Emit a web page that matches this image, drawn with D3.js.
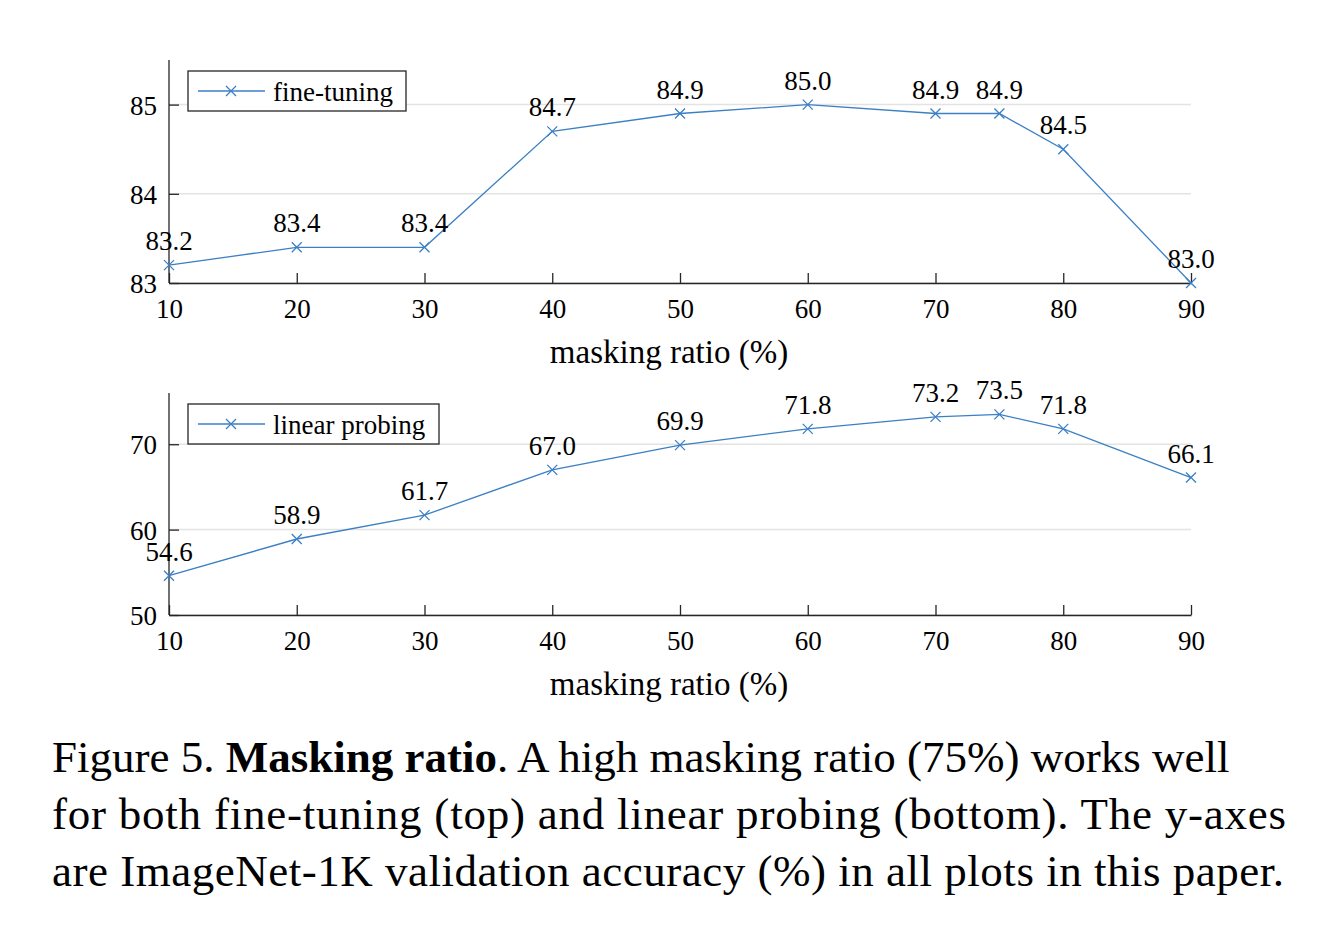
<!DOCTYPE html>
<html><head><meta charset="utf-8">
<script src="https://cdn.jsdelivr.net/npm/d3@7"></script>
<style>body{margin:0;background:#fff}text{font-family:"Liberation Serif","Times New Roman",serif;fill:#000}</style>
</head><body>
<svg id="c" width="1318" height="930"></svg>
<script>
// data
const ratios = [10, 20, 30, 40, 50, 60, 70, 75, 80, 90];
const xTicks = [10, 20, 30, 40, 50, 60, 70, 80, 90];
const fineTuning = [83.2, 83.4, 83.4, 84.7, 84.9, 85.0, 84.9, 84.9, 84.5, 83.0];
const linearProbing = [54.6, 58.9, 61.7, 67.0, 69.9, 71.8, 73.2, 73.5, 71.8, 66.1];
const ftTicks = [83, 84, 85];
const lpTicks = [50, 60, 70];

const svg = d3.select("#c");
const blue = "#3b7fc4";

function panel(top, bottom, yDomain, yTicks, values, label, legW) {
  const x = d3.scaleLinear().domain([10, 90]).range([169, 1191]);
  const y = d3.scaleLinear().domain(yDomain).range([bottom, top]);
  const g = svg.append("g");

  // grid
  g.selectAll(".grid").data(yTicks).enter().append("line")
    .attr("x1", 169).attr("x2", 1191)
    .attr("y1", d => y(d)).attr("y2", d => y(d))
    .attr("stroke", "#e3e3e3").attr("stroke-width", 1.5);

  // axes
  const ax = g.append("g").attr("transform", `translate(0,${bottom})`)
    .call(d3.axisBottom(x).tickValues(xTicks).tickFormat(d3.format("d")).tickSize(-10).tickPadding(16).tickSizeOuter(0));
  const ay = g.append("g").attr("transform", "translate(169,0)")
    .call(d3.axisLeft(y).tickValues(yTicks).tickFormat(d3.format("d")).tickSize(-10).tickPadding(12).tickSizeOuter(0));
  [ax, ay].forEach(a => {
    a.select(".domain").attr("stroke", "#262626").attr("stroke-width", 1.3);
    a.selectAll(".tick line").attr("stroke", "#262626").attr("stroke-width", 1.3);
    a.selectAll("text").style("font-size", "27px").attr("fill", "#1a1a1a")
      .style("font-family", '"Liberation Serif",serif');
  });
  ay.selectAll("text").attr("dy", "0.35em");
  ay.select(".domain").attr("d", `M0,${top}V${bottom}`);

  // x label
  g.append("text").attr("x", 669).attr("y", bottom + 80).attr("text-anchor", "middle")
    .style("font-size", "33px").text("masking ratio (%)");

  // line
  const pts = ratios.map((r, i) => [r, values[i]]);
  g.append("path").datum(pts).attr("fill", "none").attr("stroke", blue).attr("stroke-width", 1.3)
    .attr("d", d3.line().x(d => x(d[0])).y(d => y(d[1])));
  const s = 5;
  g.selectAll(".m").data(pts).enter().append("path")
    .attr("d", d => { const cx = x(d[0]), cy = y(d[1]);
      return `M${cx-s},${cy-s}L${cx+s},${cy+s}M${cx-s},${cy+s}L${cx+s},${cy-s}`; })
    .attr("stroke", blue).attr("stroke-width", 1.3);
  g.selectAll(".lab").data(pts).enter().append("text")
    .attr("x", d => x(d[0])).attr("y", d => y(d[1]) - 15).attr("text-anchor", "middle")
    .style("font-size", "27px").text(d => d[1].toFixed(1));

  // legend
  const lg = g.append("g").attr("transform", `translate(188,${top + 11})`);
  lg.append("rect").attr("width", legW).attr("height", 40).attr("fill", "#fff")
    .attr("stroke", "#262626").attr("stroke-width", 1.3);
  lg.append("line").attr("x1", 10).attr("x2", 77).attr("y1", 20).attr("y2", 20)
    .attr("stroke", blue).attr("stroke-width", 1.3);
  lg.append("path").attr("d", `M${43-s},${20-s}L${43+s},${20+s}M${43-s},${20+s}L${43+s},${20-s}`)
    .attr("stroke", blue).attr("stroke-width", 1.3);
  lg.append("text").attr("x", 85).attr("y", 30).style("font-size", "27px").text(label);
}

panel(60, 283, [83, 85.5], ftTicks, fineTuning, "fine-tuning", 218);
panel(393, 615, [50, 76], lpTicks, linearProbing, "linear probing", 251);

// caption
const cap = svg.append("text").style("font-size", "45px").attr("x", 52);
const l1 = cap.append("tspan").attr("x", 52).attr("y", 772);
l1.append("tspan").text("Figure 5. ");
l1.append("tspan").style("font-weight", "bold").text("Masking ratio");
l1.append("tspan").text(". A high masking ratio (75%) works well");
cap.append("tspan").attr("x", 52).attr("y", 829).attr("textLength", 1234).attr("lengthAdjust", "spacing")
  .text("for both fine-tuning (top) and linear probing (bottom). The y-axes");
cap.append("tspan").attr("x", 52).attr("y", 886).attr("textLength", 1232).attr("lengthAdjust", "spacing")
  .text("are ImageNet-1K validation accuracy (%) in all plots in this paper.");
</script>
</body></html>
